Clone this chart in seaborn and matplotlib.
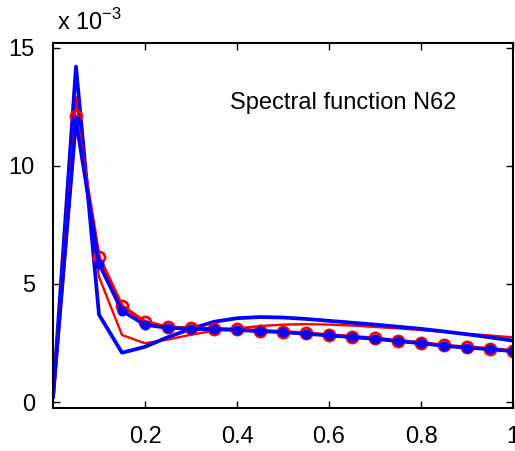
import numpy as np
import pandas as pd
import matplotlib
matplotlib.use("Agg")
import matplotlib.pyplot as plt
import seaborn as sns

# x grid and the four curves (values in units of 1e-3)
x = [0.0, 0.05, 0.1, 0.15, 0.2, 0.25, 0.3, 0.35, 0.4, 0.45, 0.5,
     0.55, 0.6, 0.65, 0.7, 0.75, 0.8, 0.85, 0.9, 0.95, 1.0]
red_circles = [0.2, 12.1, 6.15, 4.07, 3.40, 3.17, 3.12, 3.10, 3.08, 3.02, 2.98,
               2.91, 2.84, 2.77, 2.70, 2.60, 2.51, 2.40, 2.32, 2.26, 2.17]
blue_dots = [0.2, 11.9, 5.85, 3.86, 3.27, 3.14, 3.10, 3.08, 3.05, 3.00, 2.96,
             2.89, 2.82, 2.75, 2.68, 2.58, 2.49, 2.38, 2.30, 2.24, 2.15]
red_line = [0.2, 12.9, 5.3, 2.84, 2.49, 2.65, 2.85, 3.02, 3.12, 3.22, 3.28,
            3.30, 3.28, 3.24, 3.18, 3.12, 3.05, 2.97, 2.89, 2.82, 2.74]
blue_line = [0.2, 14.2, 3.7, 2.09, 2.34, 2.75, 3.10, 3.40, 3.55, 3.60, 3.58,
             3.52, 3.44, 3.36, 3.28, 3.19, 3.10, 2.99, 2.87, 2.74, 2.60]

sns.set_style("ticks")
plt.rcParams['font.family'] = ['Liberation Sans', 'DejaVu Sans']
plt.rcParams['mathtext.fontset'] = 'custom'
plt.rcParams['mathtext.rm'] = 'Liberation Sans'
plt.rcParams['text.color'] = 'black'
plt.rcParams['xtick.color'] = 'black'
plt.rcParams['ytick.color'] = 'black'
plt.rcParams['axes.edgecolor'] = 'black'

fig = plt.figure(figsize=(5.15, 4.51), dpi=100)
ax = fig.add_axes([53/515, 1 - 408/451, 460/515, 365/451])

marks = list(range(1, len(x)))
sns.lineplot(x=x, y=red_line, color="red", linewidth=1.7, ax=ax)
sns.lineplot(x=x, y=blue_line, color="blue", linewidth=2.7, ax=ax)
sns.lineplot(x=x, y=red_circles, color="red", linewidth=2.6, marker="o",
             markersize=8, markerfacecolor="none", markeredgecolor="red",
             markeredgewidth=2, markevery=marks, ax=ax)
sns.lineplot(x=x, y=blue_dots, color="blue", linewidth=2.6, marker="o",
             markersize=6.5, markerfacecolor="blue", markeredgecolor="blue",
             markevery=marks, ax=ax)

ax.set_xlim(0, 1)
ax.set_ylim(-0.25, 15.2)
ax.set_xticks([0.2, 0.4, 0.6, 0.8, 1.0])
ax.set_xticklabels(["0.2", "0.4", "0.6", "0.8", "1"])
ax.set_yticks([0, 5, 10, 15])
ax.tick_params(direction="in", top=True, right=True, labelsize=17,
               length=5, width=1)
ax.tick_params(axis="x", pad=13)
ax.tick_params(axis="y", pad=13)
for s in ax.spines.values():
    s.set_visible(True)
    s.set_linewidth(1.5)

ax.text(0.385, 0.836, "Spectral function N62", transform=ax.transAxes,
        fontsize=17, va="center", ha="left")
fig.text(57/515, 1 - 22/451, r"x 10$^{-3}$", fontsize=17, va="center", ha="left")

fig.savefig("out.png", dpi=100)
